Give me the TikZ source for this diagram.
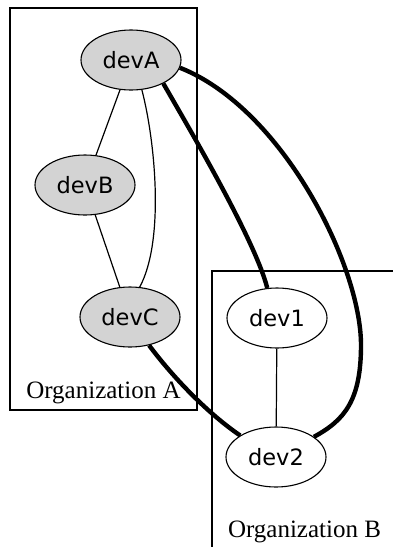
\documentclass[tikz,border=0pt]{standalone}
\usepackage{fontspec}
\setmainfont{Liberation Serif}
\newfontfamily\devfont{DejaVu Sans}
\usetikzlibrary{shapes.geometric}
\definecolor{devfill}{HTML}{D3D3D3}
\tikzset{
  dev/.style={ellipse, draw, line width=1.1pt, minimum width=100pt, minimum height=60pt,
    inner sep=0pt, font=\devfont\fontsize{22.5}{27}\selectfont},
  orgdev/.style={dev, fill=devfill},
  extdev/.style={dev, fill=white},
  link/.style={line width=1.2pt},
  trunk/.style={line width=4.4pt},
  cluster/.style={line width=1.3pt},
  orglabel/.style={anchor=base, inner sep=0pt, font=\fontsize{25}{30}\selectfont},
}
\begin{document}
\begin{tikzpicture}[x=1pt, y=-1pt]
\useasboundingbox (0,0) rectangle (392,547);
\fill[white] (0,0) rectangle (392,547);

% Organization A cluster
\draw[cluster] (10,8) rectangle (197,410);
\node[orglabel] (labA) at (103.5,398) {Organization A};

% Organization B cluster (continues past the page edge)
\coordinate (cbR) at (394,271);
\coordinate (cbB) at (212,549);
\draw[cluster] (cbR) -- (212,271) -- (cbB);
\node[orglabel] (labB) at (304.5,537) {Organization B};

% devices
\node[orgdev] (devA) at (131,60) {devA};
\node[orgdev] (devB) at (85,185) {devB};
\node[orgdev] (devC) at (130,317) {devC};
\node[extdev] (dev1) at (277,318) {dev1};
\node[extdev] (dev2) at (276,457) {dev2};

% internal links
\draw[link] (devA) -- (devB);
\draw[link] (devB) -- (devC);
\draw[link] (devA.-70) .. controls (155,140) and (165,240) .. (devC.72);
\draw[link] (dev1) -- (dev2);

% inter-organization trunks
\coordinate (bend) at (361,345);
\draw[trunk] (devA.-36) .. controls (190,130) and (255,240) .. (dev1.108);
\draw[trunk] (devA.-9) .. controls (282,108) and (361,265) .. (bend)
  .. controls (361,400) and (345,420) .. (dev2.28);
\draw[trunk] (devC.-56) .. controls (175,380) and (210,415) .. (dev2.149);
\end{tikzpicture}
\end{document}
